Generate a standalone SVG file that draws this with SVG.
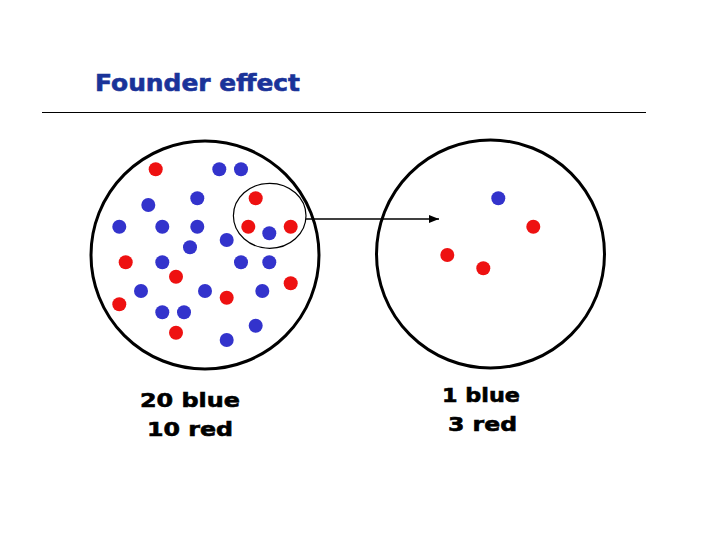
<svg xmlns="http://www.w3.org/2000/svg" width="720" height="540" viewBox="0 0 720 540">
<style>
.title{font-family:"DejaVu Sans",Verdana,sans-serif;font-weight:bold;font-size:23px;fill:#1a3399;stroke:#1a3399;stroke-width:0.6}
.lbl{font-family:"DejaVu Sans",Verdana,sans-serif;font-weight:bold;font-size:20px;fill:#000;stroke:#000;stroke-width:0.6}
.pop{fill:none;stroke:#000;stroke-width:3}
.b{fill:#3333cc}
.r{fill:#ee1111}
</style>
<defs>
<marker id="ah" markerWidth="10" markerHeight="8" refX="10" refY="4" orient="auto" markerUnits="userSpaceOnUse">
<path d="M0,0 L10,4 L0,8 Z" fill="#000"/>
</marker>
</defs>
<rect width="720" height="540" fill="#fff"/>
<text class="title" x="95" y="91" textLength="205" lengthAdjust="spacingAndGlyphs">Founder effect</text>
<line x1="42" y1="112.5" x2="646" y2="112.5" stroke="#000" stroke-width="1"/>
<g id="source-population">
<circle class="pop" cx="205" cy="255" r="114"/>
<g>
<circle class="r" cx="155.7" cy="169.3" r="7"/>
<circle class="b" cx="219.3" cy="169.3" r="7"/>
<circle class="b" cx="241" cy="169.3" r="7"/>
<circle class="r" cx="255.7" cy="198.3" r="7"/>
<circle class="b" cx="197.3" cy="198.3" r="7"/>
<circle class="b" cx="148.3" cy="205" r="7"/>
<circle class="b" cx="119.3" cy="226.7" r="7"/>
<circle class="b" cx="162.3" cy="226.7" r="7"/>
<circle class="b" cx="197.3" cy="226.7" r="7"/>
<circle class="r" cx="248.3" cy="226.7" r="7"/>
<circle class="r" cx="290.7" cy="226.7" r="7"/>
<circle class="b" cx="269.3" cy="233.3" r="7"/>
<circle class="b" cx="226.7" cy="240" r="7"/>
<circle class="b" cx="190" cy="247.3" r="7"/>
<circle class="r" cx="125.7" cy="262.3" r="7"/>
<circle class="b" cx="162.3" cy="262.3" r="7"/>
<circle class="b" cx="241" cy="262.3" r="7"/>
<circle class="b" cx="269.3" cy="262.3" r="7"/>
<circle class="r" cx="176" cy="276.7" r="7"/>
<circle class="r" cx="290.7" cy="283.3" r="7"/>
<circle class="b" cx="141" cy="291" r="7"/>
<circle class="b" cx="205" cy="291" r="7"/>
<circle class="b" cx="262.3" cy="291" r="7"/>
<circle class="r" cx="226.7" cy="297.7" r="7"/>
<circle class="r" cx="119.3" cy="304.3" r="7"/>
<circle class="b" cx="162.3" cy="312.3" r="7"/>
<circle class="b" cx="184" cy="312.3" r="7"/>
<circle class="b" cx="255.7" cy="325.7" r="7"/>
<circle class="r" cx="176" cy="332.7" r="7"/>
<circle class="b" cx="226.7" cy="340" r="7"/>
</g>
<ellipse cx="269.7" cy="215.8" rx="36.3" ry="32.5" fill="none" stroke="#000" stroke-width="1.2"/>
<text class="lbl" x="140" y="407" textLength="100" lengthAdjust="spacingAndGlyphs">20 blue</text>
<text class="lbl" x="147" y="436" textLength="86" lengthAdjust="spacingAndGlyphs">10 red</text>
</g>
<g id="founder-population">
<circle class="pop" cx="490.5" cy="254" r="114"/>
<circle class="b" cx="498.3" cy="198.3" r="7"/>
<circle class="r" cx="533.3" cy="226.7" r="7"/>
<circle class="r" cx="447.3" cy="255" r="7"/>
<circle class="r" cx="483.3" cy="268.3" r="7"/>
<text class="lbl" x="442" y="402" textLength="78" lengthAdjust="spacingAndGlyphs">1 blue</text>
<text class="lbl" x="448" y="431" textLength="69" lengthAdjust="spacingAndGlyphs">3 red</text>
</g>
<g id="connectors">
<line x1="306" y1="219" x2="439" y2="219" stroke="#000" stroke-width="1.5" marker-end="url(#ah)"/>
</g>
</svg>
